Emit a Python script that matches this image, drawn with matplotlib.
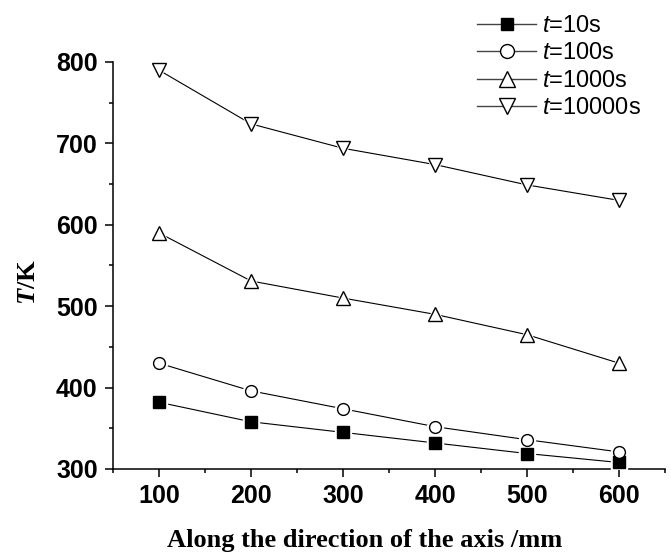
import matplotlib
matplotlib.use('Agg')
import matplotlib.pyplot as plt
from matplotlib.ticker import MultipleLocator

# 数据
x = [100, 200, 300, 400, 500, 600]
t10 = [382, 358, 345, 332, 319, 308]
t100 = [430, 396, 374, 352, 336, 321]
t1000 = [590, 531, 510, 490, 465, 430]
t10000 = [790, 724, 694, 674, 649, 630]
labels = ['$t$=10s', '$t$=100s', '$t$=1000s', '$t$=10000s']

plt.rcParams['mathtext.fontset'] = 'custom'
plt.rcParams['mathtext.it'] = 'Liberation Sans:italic'
plt.rcParams['mathtext.rm'] = 'Liberation Sans'
plt.rcParams['mathtext.bfit'] = 'Liberation Serif:italic:bold'

fig = plt.figure(figsize=(6.71, 5.52), dpi=100)
ax = fig.add_axes([113 / 671, 83 / 552, 552 / 671, 407 / 552])

series = [t10, t100, t1000, t10000]
markers = ['s', 'o', '^', 'v']
sizes = [8, 8.5, 10.5, 10.5]
leg_sizes = [8.6, 10, 11.5, 11.5]
faces = ['black', 'white', 'white', 'white']
handles = []
for ys, m, ms, lms, fc, lab in zip(series, markers, sizes, leg_sizes, faces, labels):
    ax.plot(x, ys, color='black', linewidth=0.8, zorder=2)
    # 白色底，让线和标记之间留空隙
    ax.plot(x, ys, linestyle='none', marker=m, markersize=ms + 3,
            markerfacecolor='white', markeredgecolor='white', zorder=3)
    ax.plot(x, ys, linestyle='none', marker=m, markersize=ms,
            markerfacecolor=fc, markeredgecolor='black',
            markeredgewidth=1.0, zorder=4)
    hl, = ax.plot([], [], color='#444444', linewidth=1.0, marker=m,
                  markersize=lms, markerfacecolor=fc, markeredgecolor='black',
                  label=lab)
    handles.append(hl)

ax.set_xlim(50, 650)
ax.set_ylim(300, 800)
ax.xaxis.set_major_locator(MultipleLocator(100))
ax.xaxis.set_minor_locator(MultipleLocator(50))
ax.yaxis.set_major_locator(MultipleLocator(100))
ax.yaxis.set_minor_locator(MultipleLocator(50))
ax.set_xticks([100, 200, 300, 400, 500, 600])
ax.spines['top'].set_visible(False)
ax.spines['right'].set_visible(False)
ax.spines['left'].set_linewidth(1.1)
ax.spines['bottom'].set_linewidth(1.1)
ax.tick_params(which='major', direction='out', length=6, width=1.1, pad=5)
ax.tick_params(which='minor', direction='out', length=3, width=1.1)
for lab in ax.get_xticklabels() + ax.get_yticklabels():
    lab.set_fontfamily('Liberation Sans')
    lab.set_fontweight('bold')
    lab.set_fontsize(18)

ax.set_xlabel('Along the direction of the axis /mm', fontfamily='Liberation Serif',
              fontweight='bold', fontsize=19)
ax.xaxis.set_label_coords(0.4565, -0.147)
ax.set_ylabel(r'$\mathbfit{T}$/K', fontfamily='Liberation Serif',
              fontweight='bold', fontsize=19)
ax.yaxis.set_label_coords(-0.132, 0.459)

fig.legend(handles=handles, loc='upper left', frameon=False,
           bbox_to_anchor=(477 / 671, 1 - 15 / 552), borderpad=0,
           borderaxespad=0, handlelength=2.5, handletextpad=0.25,
           labelspacing=0.23, prop={'family': 'Liberation Sans', 'size': 17})

fig.savefig('out.png', dpi=100)
